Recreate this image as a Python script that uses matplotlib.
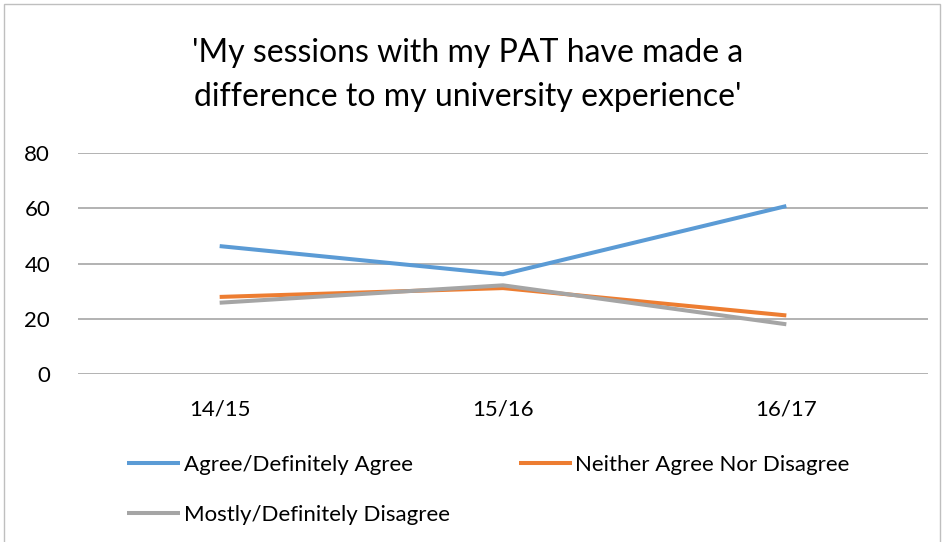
import matplotlib
matplotlib.use('Agg')
import matplotlib.pyplot as plt
from matplotlib.patches import Rectangle

#---------------------------------
# データ
#---------------------------------
years = ['14/15', '15/16', '16/17']
agree = [46.3, 36.1, 60.8]
neither = [27.9, 31.1, 21.2]
disagree = [25.8, 32.1, 18.0]
series_labels = ['Agree/Definitely Agree', 'Neither Agree Nor Disagree', 'Mostly/Definitely Disagree']
series_colors = ['#5B9BD5', '#ED7D31', '#A5A5A5']
yticks = [0, 20, 40, 60, 80]
title = "'My sessions with my PAT have made a\ndifference to my university experience'"

plt.rcParams['font.family'] = ['Lato', 'DejaVu Sans']

#---------------------------------
# 描画
#---------------------------------
W, H = 944, 542
fig = plt.figure(figsize=(W / 100, H / 100), dpi=100)
ax = fig.add_axes([78 / W, 1 - 374 / H, (928 - 78) / W, (374 - 153) / H])

x = list(range(len(years)))
lines = []
for ydata, lab, col in zip([agree, neither, disagree], series_labels, series_colors):
    ln, = ax.plot(x, ydata, color=col, linewidth=2.9, label=lab, solid_capstyle='butt')
    lines.append(ln)

ax.set_xlim(-0.5, len(years) - 0.5)
ax.set_ylim(0, 80)
ax.set_yticks(yticks)
ax.set_xticks(x)
ax.set_xticklabels(years)
ax.grid(axis='y', color='#A6A6A6', linewidth=1.2)
ax.set_axisbelow(True)
for s in ax.spines.values():
    s.set_visible(False)
ax.tick_params(axis='both', length=0, labelsize=16, colors='black')
ax.tick_params(axis='y', pad=20)
ax.tick_params(axis='x', pad=18)

fig.text(468 / W, 1 - 75 / H, title, ha='center', va='center', fontsize=23, linespacing=1.6)

# 凡例は行方向に並べる (列優先で埋まるので順序を入れ替え)
order = [0, 2, 1]
fig.legend([lines[i] for i in order], [series_labels[i] for i in order],
           loc='upper left', bbox_to_anchor=(127 / W, 1 - 455 / H), ncol=2, frameon=False,
           fontsize=16, handlelength=2.4, handletextpad=0.15, columnspacing=3.1,
           labelspacing=1.35, borderpad=0, borderaxespad=0)

fig.patches.append(Rectangle((4 / W, -0.01), (940 - 4) / W, 1 - 4 / H + 0.01, transform=fig.transFigure,
                             fill=False, edgecolor='#BFBFBF', linewidth=1))

fig.savefig('out.png', dpi=100)
plt.close()
